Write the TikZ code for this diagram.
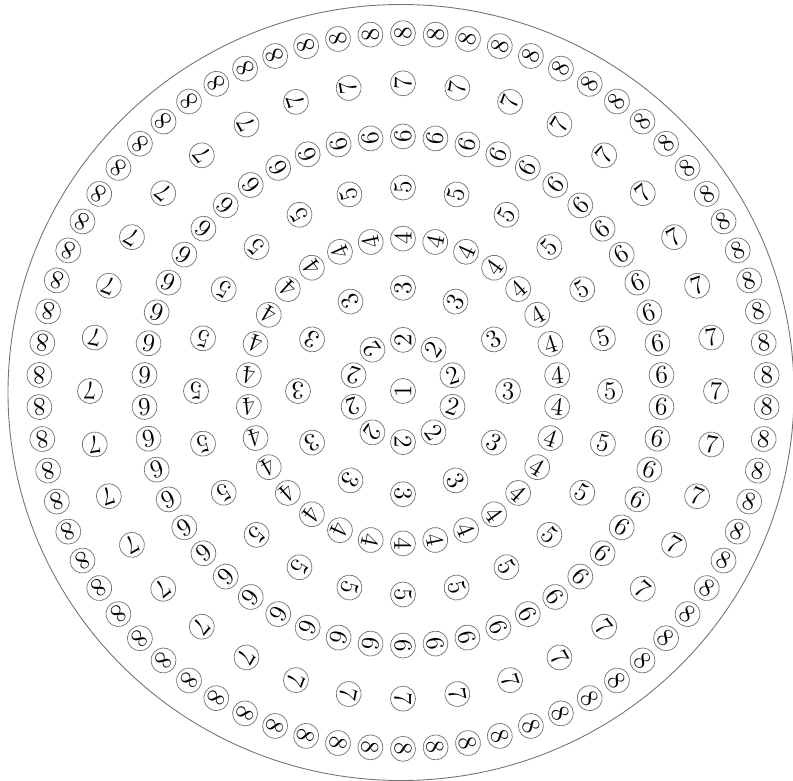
\documentclass[tikz,border=0pt]{standalone}
\usetikzlibrary{positioning}

\begin{document}
\begin{tikzpicture}[x=0.02cm,y=0.02cm,
  ball/.style={circle,draw=black!55,line width=0.4pt,inner sep=0pt,minimum size=0.5cm,font=\fontsize{14.5}{16}\selectfont}]
\useasboundingbox (-403,-389) rectangle (390,391);
\draw[black!55,line width=0.5pt] (-2,-1.5) ellipse (393 and 388);
\node[ball,rotate=90] (c) at (0,0) {1};
% rings: number / count / start angle / radius
\foreach \n/\k/\off/\r in {2/10/18/52, 3/12/0/105, 4/30/6/155, 5/24/0/207, 6/50/3.6/259, 7/36/0/313, 8/70/2.5714/364} {
  \pgfmathsetmacro\stp{360/\k}
  \pgfmathsetmacro\ry{0.983*\r}
  \foreach \i in {1,...,\k} {
    \pgfmathsetmacro\a{\off+(\i-1)*\stp}
    \node[ball,rotate=\a] (r\n-\i) at ({\r*cos(\a)},{\ry*sin(\a)}) {\n};
  }
}
\end{tikzpicture}
\end{document}
